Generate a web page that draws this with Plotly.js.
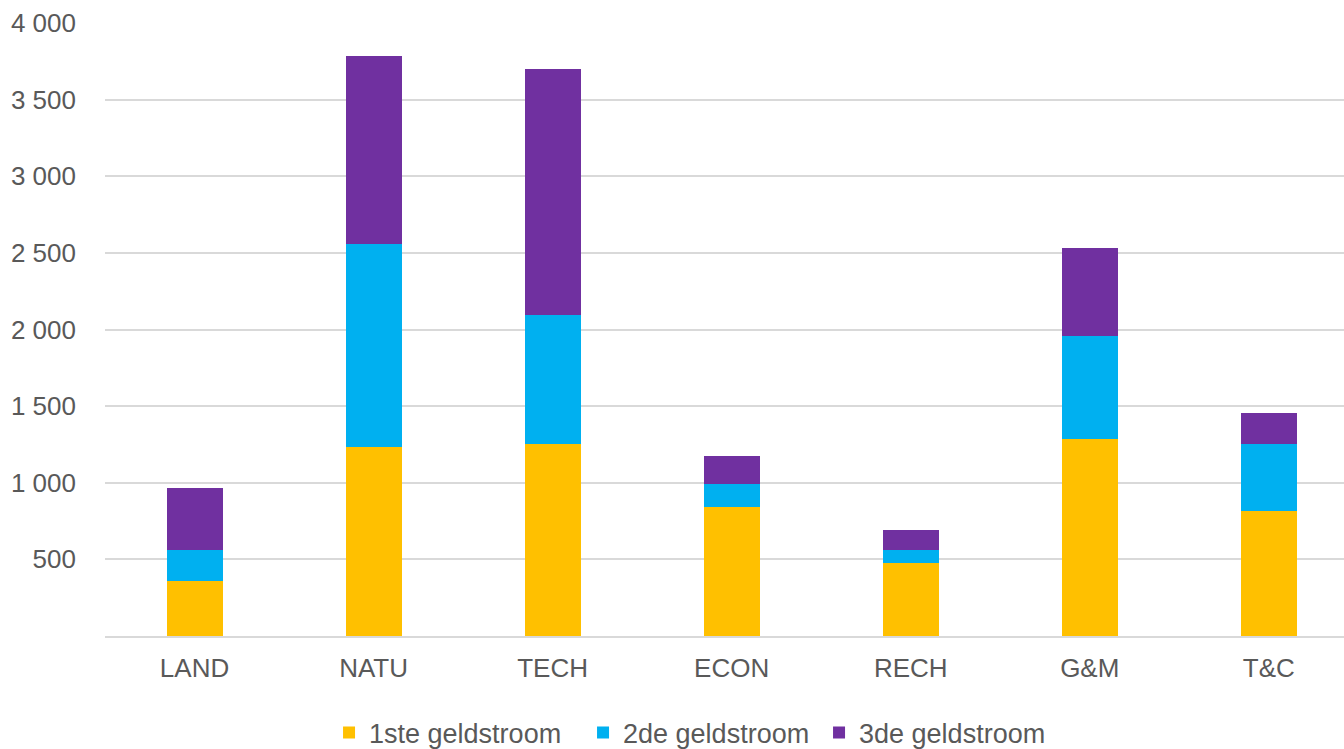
<!DOCTYPE html>
<html>
<head>
<meta charset="utf-8">
<script src="https://cdn.plot.ly/plotly-3.0.1.min.js"></script>
<style>html,body{margin:0;padding:0;background:#fff;}#chart{width:1344px;height:749px;}</style>
</head>
<body>
<div id="chart"></div>
<script>
const categories = ["LAND", "NATU", "TECH", "ECON", "RECH", "G&M", "T&C"];
const seriesNames = ["1ste geldstroom", "2de geldstroom", "3de geldstroom"];
const eerste = [357, 1234, 1255, 842, 476, 1286, 816];
const tweede = [202, 1323, 840, 148, 85, 670, 439];
const derde = [405, 1229, 1604, 185, 131, 577, 199];
const yTickVals = [500, 1000, 1500, 2000, 2500, 3000, 3500, 4000];
const yTickText = ["500", "1 000", "1 500", "2 000", "2 500", "3 000", "3 500", "4 000"];

const colors = ["#FFC000", "#00B0F0", "#7030A0"];
const legendWidths = [209, 191, 191];
const values = [eerste, tweede, derde];
const traces = values.map((v, i) => ({
  type: "bar",
  name: seriesNames[i],
  x: categories,
  y: v,
  width: 0.313,
  legendwidth: legendWidths[i],
  marker: {color: colors[i], line: {width: 0}},
  hoverinfo: "x+y+name"
}));

const font = {family: "Liberation Sans, Arial, sans-serif", color: "#595959", size: 26};
const legendFont = {family: "Liberation Sans, Arial, sans-serif", color: "#595959", size: 27};
const layout = {
  width: 1344, height: 749,
  margin: {l: 105, r: 0, t: 23, b: 113, autoexpand: false},
  paper_bgcolor: "#ffffff", plot_bgcolor: "#ffffff",
  barmode: "stack",
  font: font,
  showlegend: true,
  legend: {
    orientation: "h", x: 0.4738, xanchor: "center", y: -0.158, yanchor: "middle",
    font: legendFont, traceorder: "normal", itemwidth: 30
  },
  xaxis: {
    type: "category",
    range: [-0.5, 6.42],
    automargin: false,
    showgrid: false,
    showline: true, linecolor: "#d9d9d9", linewidth: 2,
    ticks: "", ticklabelstandoff: 8,
    tickfont: font, zeroline: false
  },
  yaxis: {
    range: [0, 4000],
    automargin: false,
    tickvals: yTickVals, ticktext: yTickText,
    showgrid: true, gridcolor: "#d9d9d9", gridwidth: 2,
    zeroline: false, showline: false, ticks: "",
    ticklabelstandoff: 28,
    tickfont: font
  }
};
Plotly.newPlot("chart", traces, layout, {displayModeBar: false, staticPlot: true});
</script>
</body>
</html>
